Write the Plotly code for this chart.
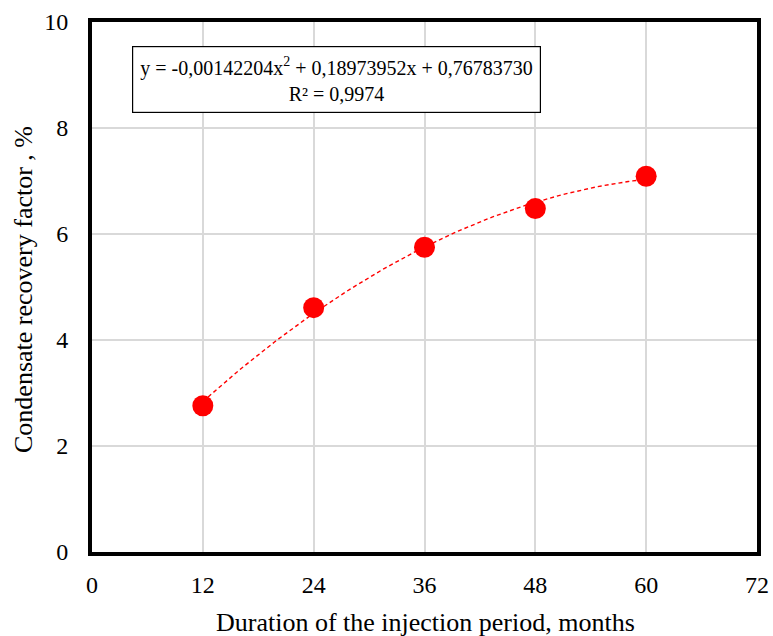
import numpy as np
import plotly.graph_objects as go

months = [12, 24, 36, 48, 60]
recovery = [2.76, 4.61, 5.75, 6.48, 7.09]
coef = [-0.00142204, 0.18973952, 0.76783730]
r2_label = "0,9974"
x_ticks = [0, 12, 24, 36, 48, 60, 72]
y_ticks = [0, 2, 4, 6, 8, 10]

xs = np.linspace(min(months), max(months), 100)
ys = np.polyval(coef, xs)

font = "Liberation Serif, Times New Roman, serif"
W, H = 773, 636
L, R, T, B = 92, 16, 22, 84
pw, ph = W - L - R, H - T - B


def px(x):
    return (x - L) / pw


def py(y):
    return 1 - (y - T) / ph


fig = go.Figure()
fig.add_trace(go.Scatter(x=xs, y=ys, mode="lines",
                         line=dict(color="red", width=1.4, dash="4px,3px"),
                         hoverinfo="skip", showlegend=False))
fig.add_trace(go.Scatter(x=months, y=recovery, mode="markers",
                         marker=dict(color="red", size=21),
                         showlegend=False))

fig.update_layout(
    width=W, height=H,
    margin=dict(l=L, r=R, t=T, b=B),
    paper_bgcolor="white", plot_bgcolor="white",
    font=dict(family=font, size=24, color="black"),
    xaxis=dict(range=[0, 72], tickvals=x_ticks, showgrid=True,
               gridcolor="#d9d9d9", gridwidth=1.5, zeroline=False,
               showline=True, linecolor="black", linewidth=4, mirror=True,
               ticks="outside", ticklen=8, tickcolor="rgba(0,0,0,0)",
               automargin=False, tickfont=dict(size=24),
               ticklabeloverflow="allow"),
    yaxis=dict(range=[0, 10], tickvals=y_ticks, showgrid=True,
               gridcolor="#d9d9d9", gridwidth=1.5, zeroline=False,
               showline=True, linecolor="black", linewidth=4, mirror=True,
               ticks="outside", ticklen=15, tickcolor="rgba(0,0,0,0)",
               automargin=False, tickfont=dict(size=24)),
)

# axis titles
fig.add_annotation(x=px(425), y=py(622), xref="paper", yref="paper",
                   text="Duration of the injection period, months",
                   showarrow=False, xanchor="center", yanchor="middle",
                   font=dict(family=font, size=26, color="black"))
fig.add_annotation(x=px(23), y=py(290), xref="paper", yref="paper",
                   text="Condensate recovery factor , %", textangle=-90,
                   showarrow=False, xanchor="center", yanchor="middle",
                   font=dict(family=font, size=26, color="black"))

eq_text = ("y = -0,00142204x<sup>2</sup> + 0,18973952x + 0,76783730<br>"
           "R² = " + r2_label)
fig.add_annotation(x=px(336), y=py(79.5), xref="paper", yref="paper",
                   text=eq_text, showarrow=False,
                   xanchor="center", yanchor="middle",
                   font=dict(family=font, size=20, color="black"),
                   bordercolor="black", borderwidth=1.2, borderpad=7,
                   bgcolor="white", align="center")

fig.write_html("out.html",
               config={"displayModeBar": False},
               post_script="document.body.style.margin='0';"
                           "document.body.style.overflow='hidden';")
